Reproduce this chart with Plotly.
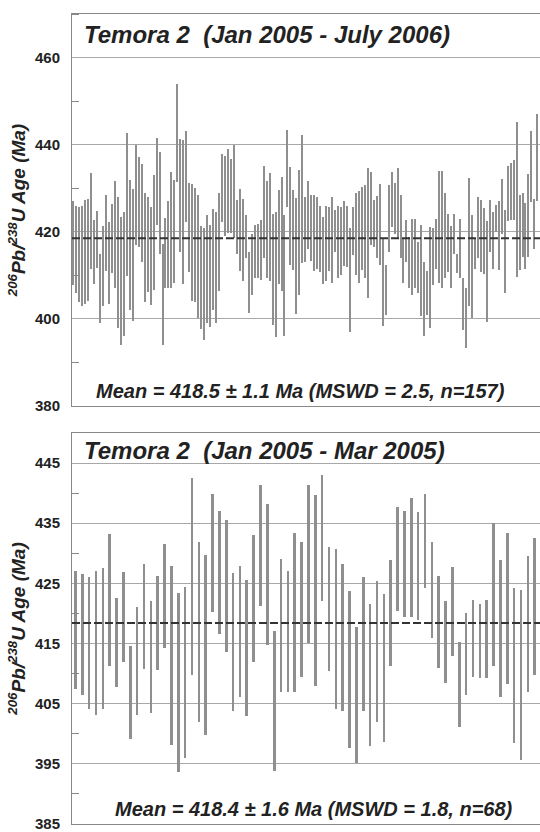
import plotly.graph_objects as go

# ---------------- data: top panel (Jan 2005 - July 2006), 157 analyses ----------------
top_hi = [427, 426, 425.8, 426, 427.4, 427.6, 433.5, 422.7, 424.7, 414.8,
          421.3, 428.5, 422.2, 426.3, 431.7, 428, 423.4, 424.5, 442.6, 431.8,
          429.8, 440, 437.1, 435.6, 429, 428, 425.6, 433, 441.5, 438.4,
          417.1, 423.2, 427, 433.7, 432, 454, 441.3, 441, 443.2, 431.3,
          431, 430.1, 428.4, 421.4, 420.8, 423.8, 421.5, 425.3, 424.6, 428.9,
          437.8, 437.5, 439, 436.8, 440, 427.4, 429.9, 427.6, 423.8, 415.4,
          419.6, 421.5, 421.9, 422.7, 435, 431.6, 433.5, 424.2, 424.6, 429.7,
          432.6, 423.8, 443.4, 434.8, 429.7, 427.8, 434.1, 442.2, 428, 431.6,
          428.4, 428.4, 428, 425.9, 423.4, 426, 425.7, 428, 425.1, 426,
          425.7, 427, 425.9, 420.8, 425.6, 428.8, 429.3, 430.3, 430.7, 434.6,
          433.7, 427.2, 428.2, 431, 418.5, 412.4, 430.8, 433.7, 431.3, 434.7,
          428.4, 418.5, 422.7, 418.8, 423, 423, 417.7, 421.5, 413.1, 411,
          421.1, 420.8, 423, 433.9, 434, 428.9, 424.2, 421.4, 424.2, 414.8,
          423, 409.3, 407.2, 432.4, 423.8, 418.5, 428, 427.2, 425.5, 422.4,
          427.2, 424.6, 426.1, 427, 432.2, 424.9, 435, 435.8, 436.4, 445.3,
          428.4, 428.9, 426.7, 433.2, 443.2, 427.6, 447]
top_lo = [407.7, 406, 404, 403, 403.4, 404.2, 411.5, 408, 411.8, 399,
          402.9, 410.9, 403.5, 410.5, 407, 398, 393.9, 396, 409.9, 402,
          399.6, 417, 416.6, 413, 404, 406.2, 403.1, 406.7, 421.5, 414.8,
          394.1, 407.1, 407, 407, 408.2, 431.4, 415.3, 408, 422.3, 410.7,
          404.2, 403.9, 400.2, 397.8, 395.2, 399.1, 398.1, 402.1, 399.1, 406.4,
          422.3, 419.1, 419.8, 419.8, 418.6, 415, 411, 408.6, 413.9, 401.3,
          405.5, 409.3, 409.3, 409, 413.9, 409.3, 408.6, 398.5, 395.8, 408,
          406.4, 396, 425.7, 412.4, 411.3, 401.1, 405.5, 412.9, 413.1, 416,
          413.3, 411, 411.5, 410.7, 408, 408.6, 411, 408.2, 415.4, 409.3,
          410.1, 412.2, 412, 396.9, 414.7, 410.1, 408.2, 411.3, 409.3, 404.8,
          417, 416.6, 413.9, 412.4, 398.3, 401, 415.4, 421.1, 419.6, 418.5,
          413.9, 408.2, 413.1, 407.2, 405.5, 407.1, 405.9, 400.6, 396, 400.9,
          397.9, 407.7, 411.5, 408.3, 407.1, 409.3, 410.8, 407.1, 415, 410.6,
          409.3, 397.4, 393.3, 402.9, 400.2, 411.5, 414.1, 410.8, 410.2, 399.4,
          415.4, 411.5, 420, 411.2, 419.6, 405.9, 422.4, 422.6, 422.8, 409.7,
          411.2, 414.2, 411.5, 414.2, 426.9, 416, 427]

# ---------------- data: bottom panel (Jan 2005 - Mar 2005), 68 analyses ----------------
bot_hi = [427.0, 426.5, 426.0, 427.1, 427.5, 433.2, 422.5, 426.9, 414.6, 421.0,
          428.3, 422.1, 426.3, 431.6, 427.9, 423.4, 424.4, 442.5, 431.9, 429.7,
          439.9, 437.0, 435.5, 426.8, 427.9, 425.5, 433.1, 441.3, 438.2, 417.1,
          429.1, 427.0, 433.4, 431.9, 441.3, 439.7, 443.0, 431.1, 430.8, 428.3,
          423.7, 417.8, 426.0, 421.5, 425.4, 423.2, 428.9, 437.7, 437.1, 439.2,
          436.9, 439.8, 431.9, 426.2, 422.1, 427.8, 415.3, 420.0, 422.3, 421.6,
          422.3, 435.1, 428.9, 433.3, 424.2, 423.9, 429.6, 432.5]
bot_lo = [407.5, 406.4, 404.2, 403.2, 404.2, 411.2, 407.8, 411.9, 399.1, 403.1,
          410.7, 403.4, 410.6, 414.3, 398.1, 393.7, 395.9, 409.7, 402.0, 399.8,
          420.2, 416.6, 413.6, 403.8, 406.1, 402.9, 412.0, 421.3, 414.7, 393.9,
          407.0, 407.0, 406.9, 409.4, 415.1, 407.9, 422.0, 410.4, 404.1, 403.8,
          397.6, 395.1, 403.8, 397.9, 402.0, 398.7, 411.2, 420.4, 419.4, 419.4,
          418.9, 424.3, 416.0, 411.0, 408.5, 413.0, 401.2, 406.4, 409.5, 409.2,
          409.2, 411.2, 406.2, 408.2, 398.5, 395.6, 406.9, 409.7]

top_title = "Temora 2  (Jan 2005 - July 2006)"
bot_title = "Temora 2  (Jan 2005 - Mar 2005)"
top_mean = 418.5
bot_mean = 418.4
top_text = "Mean = 418.5 ± 1.1 Ma (MSWD = 2.5, n=157)"
bot_text = "Mean = 418.4 ± 1.6 Ma (MSWD = 1.8, n=68)"
ytitle = "<sup>206</sup>Pb/<sup>238</sup>U Age (Ma)"

FONT = "Liberation Sans, Arial, sans-serif"
BAR_COLOR = "#8f8f8f"
GRID = "#a8a8a8"
TXT = "#222222"

fig = go.Figure()

n_top = len(top_hi)
n_bot = len(bot_hi)
fig.add_trace(go.Bar(
    x=list(range(1, n_top + 1)),
    y=[h - l for h, l in zip(top_hi, top_lo)],
    base=top_lo, width=0.5, marker=dict(color=BAR_COLOR, line=dict(width=0)),
    xaxis="x", yaxis="y", showlegend=False, hoverinfo="skip"))
fig.add_trace(go.Bar(
    x=list(range(1, n_bot + 1)),
    y=[h - l for h, l in zip(bot_hi, bot_lo)],
    base=bot_lo, width=0.38, marker=dict(color=BAR_COLOR, line=dict(width=0)),
    xaxis="x2", yaxis="y2", showlegend=False, hoverinfo="skip"))

axis_common = dict(showgrid=False, zeroline=False, showticklabels=False, ticks="",
                   showline=True, mirror=True, linecolor="#888888", linewidth=1)
yaxis_common = dict(showgrid=True, gridcolor=GRID, gridwidth=1, zeroline=False,
                    showline=True, linecolor="#888888", linewidth=1, ticks="",
                    tickfont=dict(family=FONT, size=15, color=TXT, weight="bold"),
                    ticklabelstandoff=8, ticklabeloverflow="allow",
                    title=dict(text=ytitle, standoff=4,
                               font=dict(family=FONT, size=19, color=TXT,
                                         weight="bold", style="italic")))

fig.update_layout(
    width=540, height=832,
    margin=dict(l=72, r=0, t=14, b=4),
    paper_bgcolor="white", plot_bgcolor="white",
    bargap=0,
    xaxis=dict(domain=[0, 1], range=[0.5, n_top + 0.8], anchor="y", **axis_common),
    xaxis2=dict(domain=[0, 1], range=[0.5, n_bot + 0.78], anchor="y2", **axis_common),
    yaxis=dict(domain=[0.516, 1.0], range=[380, 470], tick0=380, dtick=20, anchor="x",
               minor=dict(ticks="inside", ticklen=7, dtick=10, tick0=380,
                          tickcolor="#888888", showgrid=False),
               **yaxis_common),
    yaxis2=dict(domain=[0.0, 0.4828], range=[385, 450], tick0=385, dtick=10, anchor="x2",
                minor=dict(ticks="inside", ticklen=7, dtick=5, tick0=385,
                           tickcolor="#888888", showgrid=False),
                **yaxis_common),
    shapes=[
        dict(type="line", xref="x domain", yref="y", x0=0, x1=1, y0=top_mean, y1=top_mean,
             line=dict(color="#333333", width=2, dash="8px,3px"), layer="above"),
        dict(type="line", xref="x2 domain", yref="y2", x0=0, x1=1, y0=bot_mean, y1=bot_mean,
             line=dict(color="#333333", width=2, dash="8px,3px"), layer="above"),
    ],
    annotations=[
        dict(text=top_title, xref="x domain", yref="y domain", x=0.022, y=0.947,
             xanchor="left", yanchor="middle", showarrow=False,
             font=dict(family=FONT, size=24, color=TXT, weight="bold", style="italic")),
        dict(text=bot_title, xref="x2 domain", yref="y2 domain", x=0.022, y=0.954,
             xanchor="left", yanchor="middle", showarrow=False,
             font=dict(family=FONT, size=24, color=TXT, weight="bold", style="italic")),
        dict(text=top_text, xref="x domain", yref="y domain", x=0.489, y=0.038,
             xanchor="center", yanchor="middle", showarrow=False,
             font=dict(family=FONT, size=20, color=TXT, weight="bold", style="italic")),
        dict(text=bot_text, xref="x2 domain", yref="y2 domain", x=0.517, y=0.038,
             xanchor="center", yanchor="middle", showarrow=False,
             font=dict(family=FONT, size=20, color=TXT, weight="bold", style="italic")),
    ],
)

fig.write_html("out.html")
